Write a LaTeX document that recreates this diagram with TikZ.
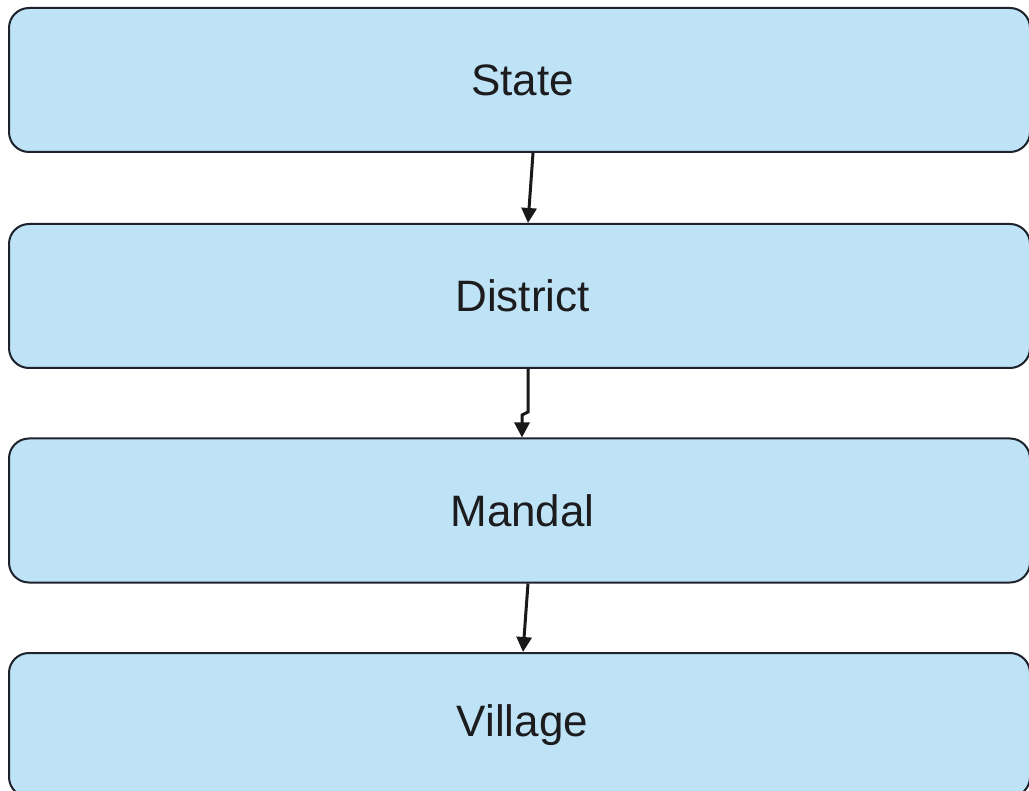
\documentclass[tikz,border=0pt]{standalone}
\usepackage{fontspec}
\setmainfont{Liberation Sans}
\usetikzlibrary{arrows.meta}
\definecolor{boxfill}{RGB}{190,227,246}
\definecolor{boxline}{RGB}{30,34,44}
\definecolor{txt}{RGB}{28,28,30}
\tikzset{
  level/.style={draw=boxline, line width=2pt, fill=boxfill, rounded corners=20pt,
    minimum width=1021pt, minimum height=144pt, inner sep=0pt,
    text=txt, font=\fontsize{44}{50}\selectfont},
  arr/.style={draw=black!90, line width=3pt, -{Triangle[length=15pt,width=15pt]}}
}
\begin{document}
\begin{tikzpicture}[x=1pt,y=1pt]
\useasboundingbox (0,0) rectangle (1029,-791);
\clip (0,0) rectangle (1029,-791);
\fill[white] (0,0) rectangle (1029,-791);
\node[level] (state) at (519.5,-80) {\hspace*{6pt}State};
\node[level] (district) at (519.5,-296) {\hspace*{6pt}District};
\node[level] (mandal) at (519.5,-510.5) {\hspace*{6pt}Mandal};
\node[level] (village) at (519.5,-725) {\hspace*{6pt}Village};
\draw[arr] ([xshift=13.5pt]state.south) -- ([xshift=8.5pt]district.north);
\coordinate (j1) at ([xshift=8.5pt,yshift=-43pt]district.south);
\coordinate (j2) at ([xshift=2.5pt,yshift=-46pt]district.south);
\draw[arr] ([xshift=8.5pt]district.south) -- (j1) -- (j2) -- ([xshift=2.5pt]mandal.north);
\draw[arr] ([xshift=8.5pt]mandal.south) -- ([xshift=3.5pt]village.north);
\end{tikzpicture}
\end{document}
